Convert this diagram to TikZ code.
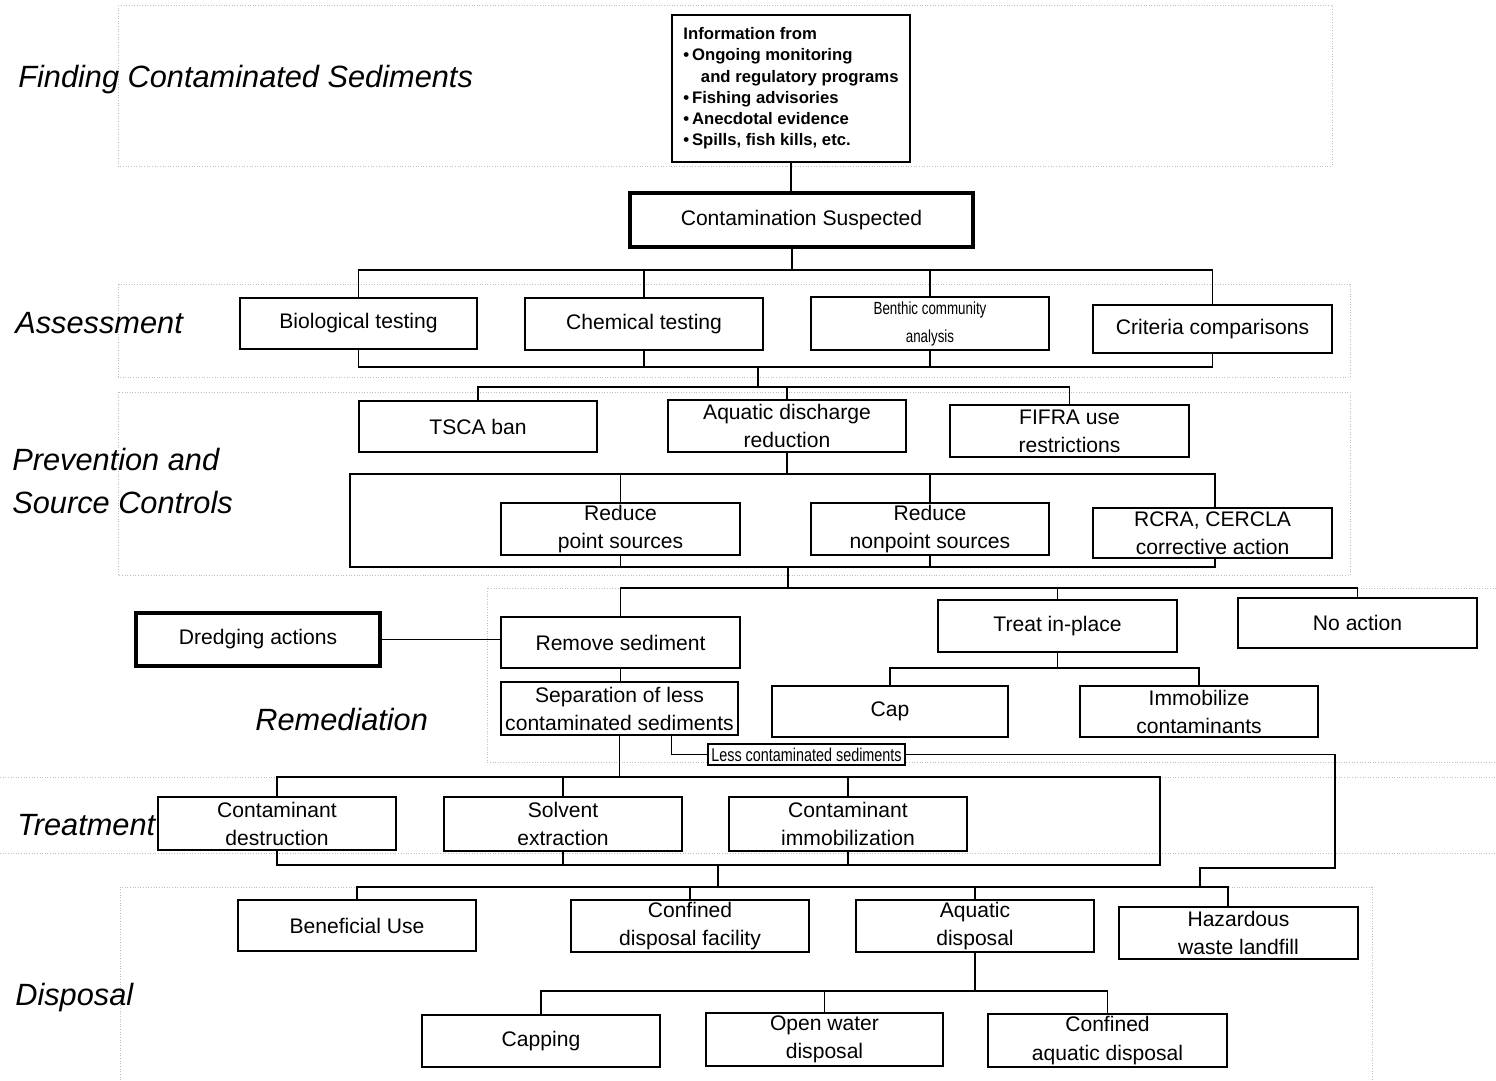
\documentclass[tikz,border=0pt]{standalone}
\usepackage{fontspec}
\setmainfont{Liberation Sans}
\usetikzlibrary{backgrounds,calc}

\begin{document}
\begin{tikzpicture}[x=0.02cm,y=-0.02cm,
  bw/.style={minimum width=#1*0.02cm},
  bh/.style={minimum height=#1*0.02cm},
  box/.style={draw, line width=0.85pt, fill=white, inner sep=0pt, align=center,
              font=\fontsize{12}{16}\selectfont},
  heavy/.style={box, line width=2.8pt},
  sec/.style={inner sep=0pt, anchor=west, align=left,
              font=\itshape\fontsize{17.5}{24}\selectfont},
  link/.style={line width=0.7pt},
  buslink/.style={line width=1.2pt},
  secline/.style={draw=gray!50, densely dotted, line width=0.5pt}]

\useasboundingbox (0,0) rectangle (1496,1080);

% ---------- section titles ----------
\node[sec] (tfind)  at (18,80)  {Finding Contaminated Sediments};
\node[sec] (tass)   at (15,323) {Assessment};
\node[sec] (tprev)  at (12,481) {Prevention and\\Source Controls};
\node[sec] (trem)   at (255,719) {Remediation};
\node[sec] (ttreat) at (17,825) {Treatment};
\node[sec] (tdisp)  at (15,998) {Disposal};

% ---------- finding ----------
\node[box, bw=238, bh=147, align=left,
      font=\bfseries\fontsize{9.5}{12.1}\selectfont] (info) at (791,88.5)
  {Information from\\
   \textbullet\,Ongoing monitoring\\
   \hspace*{1.05em}and regulatory programs\\
   \textbullet\,Fishing advisories\\
   \textbullet\,Anecdotal evidence\\
   \textbullet\,Spills, fish kills, etc.};
\node[heavy, bw=343, bh=54] (cs) at (801.5,220) {Contamination Suspected};

% ---------- assessment ----------
\node[box, bw=237, bh=51] (bio)   at (358.5,323.5) {Biological testing};
\node[box, bw=238, bh=52] (chem)  at (644,324)     {Chemical testing};
\node[box, bw=238, bh=53, font=\fontsize{10}{16}\selectfont] (benth) at (930,323.5)
  {\scalebox{0.76}[1]{Benthic community}\\\scalebox{0.76}[1]{analysis}};
\node[box, bw=239, bh=48] (crit)  at (1212.5,329)  {Criteria comparisons};

% ---------- prevention and source controls ----------
\node[box, bw=238, bh=51] (tsca)  at (478,426.5)   {TSCA ban};
\node[box, bw=238, bh=52] (aqdis) at (787,426)     {Aquatic discharge\\reduction};
\node[box, bw=239, bh=52] (fifra) at (1069.5,431)  {FIFRA use\\restrictions};
\node[box, bw=239, bh=52] (redpt) at (620.5,529)   {Reduce\\point sources};
\node[box, bw=238, bh=52] (rednp) at (930,529)     {Reduce\\nonpoint sources};
\node[box, bw=239, bh=50] (rcra)  at (1212.5,533)  {RCRA, CERCLA\\corrective action};

% ---------- remediation ----------
\node[heavy, bw=244, bh=53] (dredge) at (258,639.5) {Dredging actions};
\node[box, bw=239, bh=51] (remove) at (620.5,642.5) {Remove sediment};
\node[box, bw=237, bh=53] (sep)    at (619.5,708.5) {Separation of less\\contaminated sediments};
\node[box, bw=239, bh=52] (treat)  at (1057.5,626)  {Treat in-place};
\node[box, bw=239, bh=50] (noact)  at (1357.5,623)  {No action};
\node[box, bw=236, bh=51] (cap)    at (890,711.5)   {Cap};
\node[box, bw=238, bh=51] (immob)  at (1199,711.5)  {Immobilize\\contaminants};
\node[box, bw=197, bh=21, line width=0.7pt, font=\fontsize{10.5}{12}\selectfont] (less) at (806.5,754.5)
  {\scalebox{0.78}[1]{Less contaminated sediments}};

% ---------- treatment ----------
\node[box, bw=238, bh=53] (cdest) at (277,823.5) {Contaminant\\destruction};
\node[box, bw=238, bh=54] (solv)  at (563,824)   {Solvent\\extraction};
\node[box, bw=238, bh=54] (cimm)  at (848,824)   {Contaminant\\immobilization};

% ---------- disposal ----------
\node[box, bw=238, bh=51] (benef)   at (357,925.5)  {Beneficial Use};
\node[box, bw=238, bh=52] (cdf)     at (690,926)    {Confined\\disposal facility};
\node[box, bw=238, bh=52] (aqd)     at (975,926)    {Aquatic\\disposal};
\node[box, bw=239, bh=52] (haz)     at (1238.5,933) {Hazardous\\waste landfill};
\node[box, bw=238, bh=52] (capping) at (541,1041)   {Capping};
\node[box, bw=237, bh=53] (open)    at (824.5,1039.5) {Open water\\disposal};
\node[box, bw=239, bh=53] (caq)     at (1107.5,1040.5) {Confined\\aquatic disposal};

% ---------- connectors and section frames behind the boxes ----------
\begin{scope}[on background layer]
  % section frames
  \draw[secline] (118,5) rectangle (1332,166);
  \draw[secline] (118,284) rectangle (1350,377);
  \draw[secline] (118,392) rectangle (1350,575);
  \draw[secline] (1496,588) -| (487,762) -- (1496,762);
  \draw[secline] (0,777) -- (1496,777) (0,853) -- (1496,853);
  \draw[secline] (120,1080) |- (1372,887) -- (1372,1080);

  % finding -> assessment
  \draw[link] (info.south) -- (info.south |- cs.north);
  \coordinate (a0) at (792,270);
  \draw[link] (cs.south -| a0) -- (a0);
  \draw[link] (bio.north) -- (bio.north |- a0) -- (crit.north |- a0) -- (crit.north);
  \draw[link] (chem.north) -- (chem.north |- a0);
  \draw[link] (benth.north) -- (benth.north |- a0);

  % assessment -> prevention
  \coordinate (a1) at (758,367);
  \draw[link] (bio.south) -- (bio.south |- a1) -- (crit.south |- a1) -- (crit.south);
  \draw[link] (chem.south) -- (chem.south |- a1);
  \draw[link] (benth.south) -- (benth.south |- a1);
  \coordinate (p0) at (758,387);
  \draw[link] (a1) -- (p0);
  \draw[link] (tsca.north) -- (tsca.north |- p0) -- (fifra.north |- p0) -- (fifra.north);
  \draw[link] (aqdis.north) -- (aqdis.north |- p0);

  % source control frame
  \coordinate (pf1) at (350,474);
  \coordinate (pf2) at (1215,567);
  \draw[link] (pf1) rectangle (pf2);
  \draw[link] (aqdis.south) -- (aqdis.south |- pf1);
  \draw[link] (redpt.north |- pf1) -- (redpt.north) (redpt.south) -- (redpt.south |- pf2);
  \draw[link] (rednp.north |- pf1) -- (rednp.north) (rednp.south) -- (rednp.south |- pf2);

  % remediation
  \coordinate (r0) at (788,588);
  \draw[link] (r0 |- pf2) -- (r0);
  \draw[link] (remove.north) -- (remove.north |- r0) -- (noact.north |- r0) -- (noact.north);
  \draw[link] (treat.north) -- (treat.north |- r0);
  \draw[link] (dredge.east) -- (dredge.east -| remove.west);
  \draw[link] (remove.south) -- (remove.south |- sep.north);
  \coordinate (t0) at (1058,668);
  \draw[link] (treat.south) -- (treat.south |- t0);
  \draw[link] (cap.north) -- (cap.north |- t0) -- (immob.north |- t0) -- (immob.north);
  \draw[link] ($(sep.south)+(52,0)$) |- (less.west);

  % treatment
  \coordinate (tr0) at (620,777);
  \coordinate (tr1) at (1160,865);
  \draw[link] (sep.south) -- (sep.south |- tr0);
  \draw[link] (cdest.north) -- (cdest.north |- tr0) -- (tr1 |- tr0) -- (tr1)
              -- (cdest.south |- tr1) -- (cdest.south);
  \draw[link] (solv.north) -- (solv.north |- tr0) (solv.south) -- (solv.south |- tr1);
  \draw[link] (cimm.north) -- (cimm.north |- tr0) (cimm.south) -- (cimm.south |- tr1);

  % disposal
  \coordinate (d0) at (718,887);
  \coordinate (hzt) at (1228,907);
  \draw[link] (d0 |- tr1) -- (d0);
  \coordinate (lc1) at (1335,868);
  \coordinate (lc2) at (1200,868);
  \draw[link] (less.east) -| (lc1) -- (lc2) -- (lc2 |- d0);
  \draw[buslink] (benef.north) |- (hzt |- d0) -- (hzt);
  \draw[link] (cdf.north) -- (cdf.north |- d0);
  \draw[link] (aqd.north) -- (aqd.north |- d0);
  \coordinate (q0) at (975,991);
  \draw[link] (aqd.south) -- (q0);
  \draw[link] (capping.north) |- (caq.north |- q0) -- (caq.north);
  \draw[link] (open.north) -- (open.north |- q0);
\end{scope}
\end{tikzpicture}
\end{document}
